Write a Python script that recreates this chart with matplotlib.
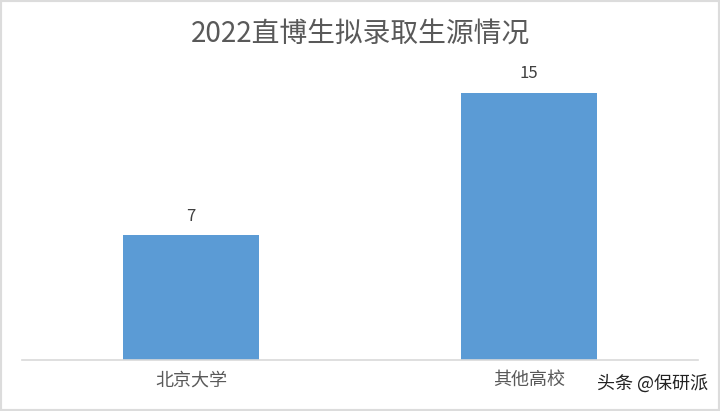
import matplotlib
matplotlib.use("Agg")
import matplotlib.pyplot as plt
from matplotlib.patches import Rectangle

plt.rcParams['font.family'] = ['Noto Sans CJK SC', 'DejaVu Sans']

title = "2022直博生拟录取生源情况"
categories = ["北京大学", "其他高校"]
counts = [7, 15]

fig = plt.figure(figsize=(7.2, 4.11), dpi=100)
ax = fig.add_axes([22 / 720, 51 / 411, 676 / 720, 285 / 411])

x = [0.5, 1.5]
ax.bar(x, counts, width=0.4, color="#5B9BD5", zorder=2)
for xi, v in zip(x, counts):
    ax.text(xi, v + 0.6, str(v), ha="center", va="bottom", fontsize=12, color="#404040")

ax.set_xlim(0, 2)
ax.set_ylim(0, 16)
ax.set_xticks(x)
ax.set_xticklabels(categories, fontsize=13, color="#595959")
ax.tick_params(axis="x", length=0, pad=8)
ax.set_yticks([])
for s in ["top", "right", "left"]:
    ax.spines[s].set_visible(False)
ax.spines["bottom"].set_color("#d9d9d9")
ax.spines["bottom"].set_linewidth(1.2)

fig.text(0.5, 1 - 35 / 411, title, ha="center", va="center", fontsize=20, color="#595959")
fig.text(708 / 720, 1 - 384 / 411, "头条 @保研派", ha="right", va="center", fontsize=13, color="#222222")

# light frame around the picture
fig.patches.append(Rectangle((0, 0), 1, 1, transform=fig.transFigure, fill=False,
                             edgecolor="#dcdcdc", linewidth=3))

fig.savefig("out.png", dpi=100)
